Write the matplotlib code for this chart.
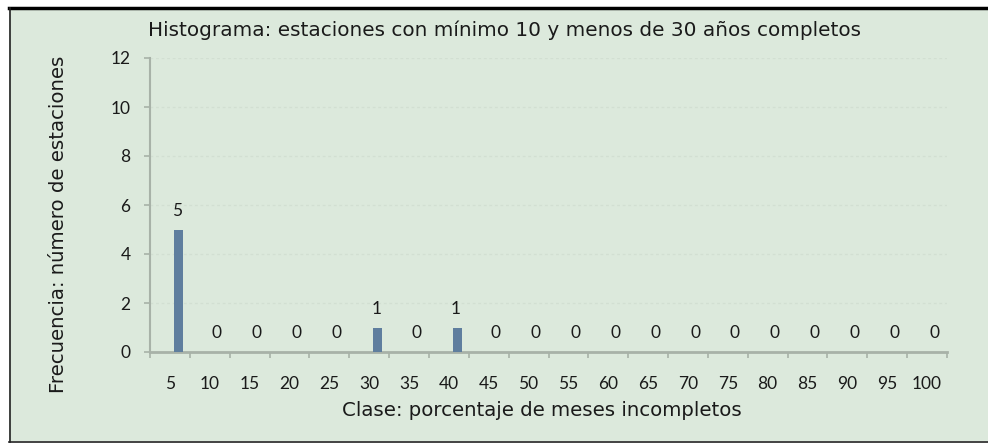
import numpy as np
import matplotlib
matplotlib.use("Agg")
import matplotlib.pyplot as plt
from matplotlib.patches import Rectangle
from matplotlib.lines import Line2D

categories = ["5", "10", "15", "20", "25", "30", "35", "40", "45", "50",
              "55", "60", "65", "70", "75", "80", "85", "90", "95", "100"]
frequencies = [5, 0, 0, 0, 0, 1, 0, 1, 0, 0, 0, 0, 0, 0, 0, 0, 0, 0, 0, 0]
y_ticks = [0, 2, 4, 6, 8, 10, 12]

title = "Histograma: estaciones con mínimo 10 y menos de 30 años completos"
xlabel = "Clase: porcentaje de meses incompletos"
ylabel = "Frecuencia: número de estaciones"

plt.rcParams['font.family'] = ['Lato', 'DejaVu Sans']
LABEL_FONT = ['DejaVu Sans']

BG = "#dce9dc"
AX = "#a8b2a8"
TXT = "#1a1a1a"
BAR = "#5f7e9e"

W, H = 988, 443
fig = plt.figure(figsize=(W / 100, H / 100), dpi=100)
fig.patch.set_facecolor("white")

fig.add_artist(Rectangle((9 / W, 2 / H), (W - 9) / W, (H - 9) / H,
                         transform=fig.transFigure, facecolor=BG, edgecolor="none", zorder=0))
fig.add_artist(Line2D([9 / W, 1], [(H - 7.5) / H] * 2, transform=fig.transFigure,
                      color="#000000", lw=2.5))
fig.add_artist(Line2D([9.5 / W] * 2, [1.5 / H, (H - 7.5) / H], transform=fig.transFigure,
                      color="#222222", lw=1.2))
fig.add_artist(Line2D([9 / W, 1], [1.5 / H] * 2, transform=fig.transFigure,
                      color="#222222", lw=1.2))

ax = fig.add_axes([150 / W, (H - 352) / H, 797 / W, 294 / H])
ax.set_facecolor("none")

x = np.arange(len(categories))
ax.bar(x + 0.21, frequencies, width=0.23, color=BAR, zorder=3)
for xi, v in zip(x, frequencies):
    ax.annotate(str(v), (xi + 0.18, v), xytext=(0, 13.5), textcoords="offset points",
                ha="center", va="center", fontsize=12.5, color=TXT)

ax.set_xlim(-0.5, len(categories) - 0.5)
ax.set_ylim(0, 12)
ax.set_yticks(y_ticks)
ax.set_yticklabels([str(t) for t in y_ticks])
ax.set_xticks(np.arange(len(categories) + 1) - 0.5)
ax.set_xticklabels([])
ax.set_xticks(x, minor=True)
ax.set_xticklabels(categories, minor=True)
ax.tick_params(axis="x", which="major", length=4, width=1.2, color=AX, direction="out")
ax.tick_params(axis="x", which="minor", length=0, pad=17, labelsize=12.5, labelcolor=TXT)
ax.tick_params(axis="y", length=4, width=1.2, color=AX, pad=10, labelsize=12.5, labelcolor=TXT)

for s in ["top", "right"]:
    ax.spines[s].set_visible(False)
ax.spines["left"].set_color(AX)
ax.spines["left"].set_linewidth(1.5)
ax.spines["bottom"].set_color(AX)
ax.spines["bottom"].set_linewidth(2)

ax.yaxis.grid(True, color="#d2dfd2", lw=1, ls=(0, (2, 2)), zorder=0)

fig.text(148 / W, (H - 30) / H, title, ha="left", va="center", fontsize=14.4,
         color=TXT, family=LABEL_FONT)
fig.text(542 / W, (H - 411) / H, xlabel, ha="center", va="center", fontsize=14.2,
         color=TXT, family=LABEL_FONT)
fig.text(58 / W, (H - 224) / H, ylabel, ha="center", va="center", rotation=90,
         fontsize=14.2, color=TXT, family=LABEL_FONT)

fig.savefig("out.png", dpi=100, facecolor=fig.get_facecolor())
